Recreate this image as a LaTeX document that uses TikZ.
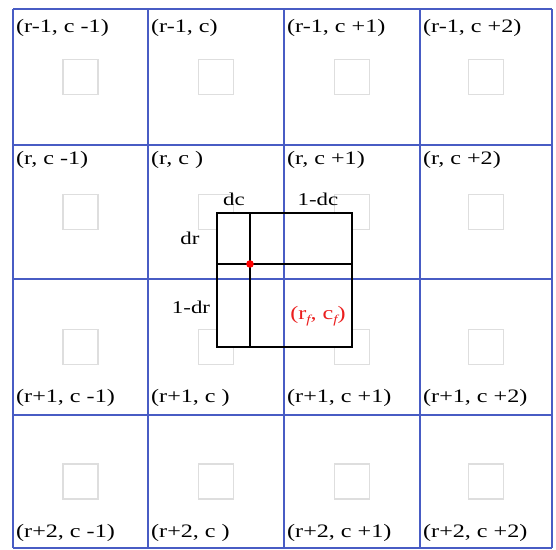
\documentclass[tikz,border=0pt]{standalone}
\usepackage{fontspec}
\setmainfont{Liberation Serif}[FakeStretch=1.27]
\definecolor{gridblue}{RGB}{72,92,196}
\definecolor{sqgray}{RGB}{222,222,222}
\definecolor{lblred}{RGB}{235,30,30}
\newcommand{\subf}{\raisebox{-0.45ex}{\fontsize{12}{12}\selectfont\itshape f}}
\begin{document}
\begin{tikzpicture}[x=1pt,y=-1pt,
  gridline/.style={draw=gridblue,line width=1.8pt},
  graysq/.style={draw=sqgray,line width=1.3pt,minimum size=35pt,inner sep=0pt},
  boxline/.style={draw=black,line width=1.7pt},
  lbl/.style={font=\fontsize{19}{19}\selectfont,inner sep=0pt,anchor=west},
  smlbl/.style={font=\fontsize{18}{18}\selectfont,inner sep=0pt},
  redlbl/.style={font=\fontsize{19}{19}\selectfont,inner sep=0pt,text=lblred}]
\useasboundingbox (0,0) rectangle (556,549);
% gray placeholder squares
\foreach \cx [count=\i] in {80.5,216,352,486}
  \foreach \cy [count=\j] in {77,212,347,481.5}
    \node[graysq] (sq\i\j) at (\cx,\cy) {};
% white-filled interpolation box
\fill[white] (217,213) rectangle (352,347);
% blue grid
\foreach \x in {13,148,284,420,552}
  \draw[gridline] (\x,9) -- (\x,548);
\foreach \y in {9,145,279,415,548}
  \draw[gridline] (13,\y) -- (552,\y);
% black box
\coordinate (b1) at (217,213);
\coordinate (b2) at (352,347);
\coordinate (vt) at (250,213);
\coordinate (vb) at (250,347);
\coordinate (hl) at (217,264);
\coordinate (hr) at (352,264);
\draw[boxline] (b1) rectangle (b2);
\draw[boxline] (vt) -- (vb);
\draw[boxline] (hl) -- (hr);
\fill[red] (250,264) circle (3.8pt);
% cell labels
\node[lbl] (l00) at (16,28) {(r-1, c -1)};
\node[lbl] (l01) at (151,28) {(r-1, c)};
\node[lbl] (l02) at (287,28) {(r-1, c +1)};
\node[lbl] (l03) at (423,28) {(r-1, c +2)};
\node[lbl] (l10) at (16,160) {(r, c -1)};
\node[lbl] (l11) at (151,160) {(r, c )};
\node[lbl] (l12) at (287,160) {(r, c +1)};
\node[lbl] (l13) at (423,160) {(r, c +2)};
\node[lbl] (l20) at (16,398) {(r+1, c -1)};
\node[lbl] (l21) at (151,398) {(r+1, c )};
\node[lbl] (l22) at (287,398) {(r+1, c +1)};
\node[lbl] (l23) at (423,398) {(r+1, c +2)};
\node[lbl] (l30) at (16,533) {(r+2, c -1)};
\node[lbl] (l31) at (151,533) {(r+2, c )};
\node[lbl] (l32) at (287,533) {(r+2, c +1)};
\node[lbl] (l33) at (423,533) {(r+2, c +2)};
% inner labels
\node[smlbl] (dc) at (234,199) {dc};
\node[smlbl] (odc) at (318,199) {1-dc};
\node[smlbl] (dr) at (190,238) {dr};
\node[smlbl] (odr) at (191,307) {1-dr};
\node[redlbl] (rfcf) at (318,316) {(r\subf, c\subf)};
\end{tikzpicture}
\end{document}
